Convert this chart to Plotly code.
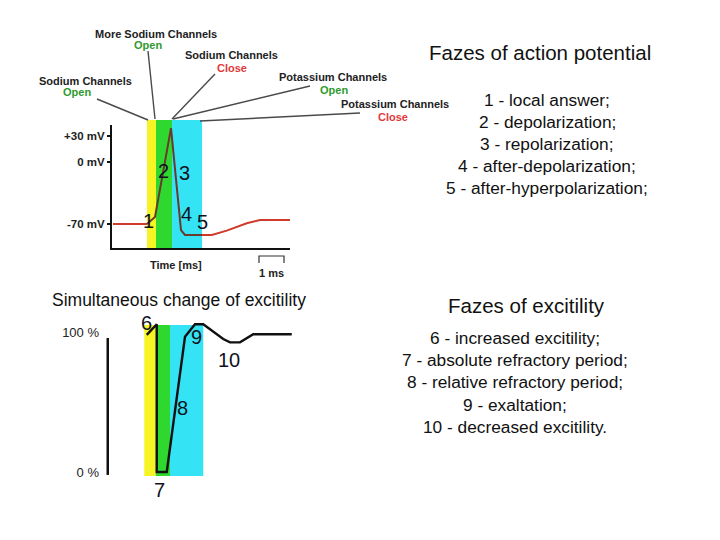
import plotly.graph_objects as go

W, H = 720, 540
FONT = "Liberation Sans, Arial, sans-serif"

# ---------------- data ----------------
# Action potential (time in ms, membrane potential in mV)
ap_time = [0.04, 1.40, 1.72, 2.36, 2.76, 2.92, 3.60, 3.99, 4.59, 5.39, 5.92, 7.12]
ap_mv = [-70, -70, -62, 39, -77, -82.5, -82.5, -82.5, -77.6, -69.2, -65.5, -65.5]
ap_ticks = [30, 0, -70]
ap_ticktext = ["+30 mV", "0 mV", "-70 mV"]

# phase bands (ms)
ap_band_edges = [1.40, 1.76, 2.40, 3.60]
ex_band_edges = [1.29, 1.75, 2.32, 3.65]
band_colors = ["#f6f424", "#2fd82f", "#34e4f4"]

# Excitability (time in ms, %)
ex_time = [1.39, 1.79, 1.79, 2.19, 2.92, 3.32, 3.65, 4.05, 4.45, 4.72, 5.12, 5.65, 7.19]
ex_pct = [97.9, 105.5, 0, 0, 96.6, 105.5, 105.5, 100.2, 95.0, 92.6, 92.6, 98.4, 98.4]
ex_ticks = [100, 0]
ex_ticktext = ["100 %", "0 %"]

# phase numbers
ap_label_text = ["1", "2", "3", "4", "5"]
ap_label_t = [1.44, 2.04, 2.88, 2.96, 3.60]
ap_label_v = [-66.6, -9.8, -12.0, -58.6, -67.7]
ex_label_text = ["6", "7", "8", "9", "10"]
ex_label_t = [1.36, 1.88, 2.80, 3.36, 4.68]
ex_label_v = [106.4, -12.9, 45.7, 96.4, 80.0]

ap_phases = ["1 - local answer;", "2 - depolarization;", "3 - repolarization;",
             "4 - after-depolarization;", "5 - after-hyperpolarization;"]
ex_phases = ["6 - increased excitility;", "7 - absolute refractory period;",
             "8 - relative refractory period;", "9 - exaltation;",
             "10 - decreased excitility."]

# channel callouts: (title, state, state colour)
channels = [
    ("More Sodium Channels", "Open", "#2e9a2e"),
    ("Sodium Channels", "Open", "#2e9a2e"),
    ("Sodium Channels", "Close", "#e03a3a"),
    ("Potassium Channels", "Open", "#2e9a2e"),
    ("Potassium Channels", "Close", "#e03a3a"),
]


def px(x):
    return x / W


def py(y):
    return 1 - y / H


def label(text, x, y, size, color="#111", xref="paper", yref="paper"):
    return dict(text=text, x=x, y=y, xref=xref, yref=yref, showarrow=False,
                xanchor="center", yanchor="middle",
                font=dict(family=FONT, size=size, color=color))


fig = go.Figure()

# action potential curve (red outside the phase bands, dark inside)
i0 = ap_time.index(ap_band_edges[0])
i1 = ap_time.index(ap_band_edges[-1])
segs = [(0, i0 + 1, "#d03a2a"), (i0, i1 + 1, "#6a3b2c"), (i1, len(ap_time), "#d03a2a")]
for a, b, c in segs:
    fig.add_trace(go.Scatter(x=ap_time[a:b], y=ap_mv[a:b], mode="lines",
                             line=dict(color=c, width=2), xaxis="x", yaxis="y",
                             hoverinfo="skip", showlegend=False))

fig.add_trace(go.Scatter(x=ex_time, y=ex_pct, mode="lines",
                         line=dict(color="#111111", width=2.4), xaxis="x2", yaxis="y2",
                         hoverinfo="skip", showlegend=False))

shapes = []
# bands top
for k in range(3):
    shapes.append(dict(type="rect", xref="x", yref="paper",
                       x0=ap_band_edges[k], x1=ap_band_edges[k + 1],
                       y0=py(248), y1=py(120), fillcolor=band_colors[k],
                       line=dict(width=0), layer="below"))
# bands bottom
for k in range(3):
    shapes.append(dict(type="rect", xref="x2", yref="y2",
                       x0=ex_band_edges[k], x1=ex_band_edges[k + 1],
                       y0=-2.9, y1=105.0, fillcolor=band_colors[k],
                       line=dict(width=0), layer="below"))
# vertical axis line of bottom chart
shapes.append(dict(type="line", xref="x2", yref="y2", x0=-0.17, x1=-0.17,
                   y0=-2.1, y1=95.7, line=dict(color="#111", width=2.5)))
# 1 ms scale bar
sb0, sb1 = 5.88, 6.88
shapes.append(dict(type="path", xref="x", yref="paper",
                   path=f"M {sb0},{py(263)} L {sb0},{py(256)} L {sb1},{py(256)} L {sb1},{py(263)}",
                   line=dict(color="#333", width=1.2)))
# connector lines (pixel positions)
connectors = [((148, 51), (155, 119)), ((97, 99), (148, 120)), ((215, 74), (172, 119)),
              ((310, 86), (173, 119)), ((360, 113), (200, 121))]
for (xa, ya), (xb, yb) in connectors:
    shapes.append(dict(type="line", xref="paper", yref="paper",
                       x0=px(xa), y0=py(ya), x1=px(xb), y1=py(yb),
                       line=dict(color="#4a4a4a", width=1.4)))

ann = []
# channel labels
chan_pos = [((156, 34), (148, 45)), ((85, 81), (77, 92)), ((231, 55), (232, 68)),
            ((333, 77), (334, 90)), ((395, 104), (393, 117))]
for (title, state, col), ((tx, ty), (sx, sy)) in zip(channels, chan_pos):
    ann.append(label(f"<b>{title}</b>", px(tx), py(ty), 11, "#222"))
    ann.append(label(f"<b>{state}</b>", px(sx), py(sy), 11, col))

for t, xx, yy in zip(ap_label_text, ap_label_t, ap_label_v):
    ann.append(label(t, xx, yy, 20, "#111122", "x", "y"))
for t, xx, yy in zip(ex_label_text, ex_label_t, ex_label_v):
    ann.append(label(t, xx, yy, 20, "#111122", "x2", "y2"))

ann.append(label("<b>Time [ms]</b>", px(176), py(265), 11, "#222"))
ann.append(label("<b>1 ms</b>", (sb0 + sb1) / 2, py(273), 11, "#222", "x", "paper"))
ann.append(label("Simultaneous change of excitility", px(178.5), py(300), 17.5))

ann.append(label("Fazes of action potential", px(540), py(53), 20.5))
for k, s in enumerate(ap_phases):
    ann.append(label(s, px(547), py(100 + 22 * k), 17.3))
ann.append(label("Fazes of excitility", px(526), py(305), 20.5))
for k, s in enumerate(ex_phases):
    ann.append(label(s, px(515), py(338 + 22.2 * k), 17.3))

fig.update_layout(
    width=W, height=H, margin=dict(l=0, r=0, t=0, b=0),
    paper_bgcolor="white", plot_bgcolor="rgba(0,0,0,0)",
    showlegend=False, shapes=shapes, annotations=ann,
    xaxis=dict(domain=[px(112), px(290)], range=[0, 7.12], showline=True,
               linecolor="#111", linewidth=2, showticklabels=False, ticks="",
               showgrid=False, zeroline=False, anchor="y", fixedrange=True),
    yaxis=dict(domain=[py(248), py(125)], range=[-97.3, 42.5], showline=True,
               linecolor="#111", linewidth=2, tickvals=ap_ticks, ticktext=ap_ticktext,
               ticks="outside", ticklen=3, tickwidth=1.5, tickcolor="#111",
               tickfont=dict(family=FONT, size=11.5, color="#222", weight="bold"),
               showgrid=False, zeroline=False, anchor="x", fixedrange=True),
    xaxis2=dict(domain=[px(100), px(300)], range=[-0.48, 7.52], visible=False,
                anchor="y2", fixedrange=True),
    yaxis2=dict(domain=[py(500), py(318)], range=[-20, 110], showline=False,
                tickvals=ex_ticks, ticktext=ex_ticktext, ticks="",
                tickfont=dict(family=FONT, size=13, color="#222"),
                showgrid=False, zeroline=False, anchor="x2", fixedrange=True),
)

fig.write_html("out.html", config={"displayModeBar": False},
               post_script="document.body.style.margin='0';")
